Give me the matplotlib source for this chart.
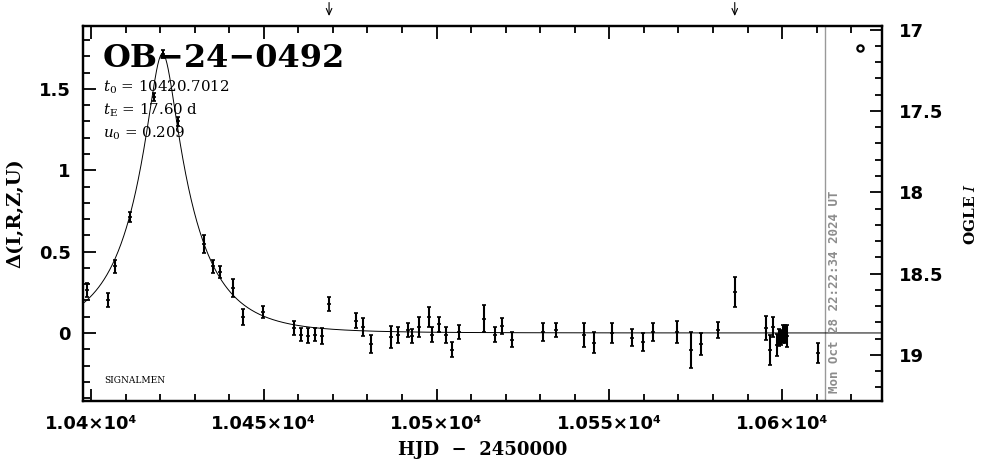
"""OGLE/SIGNALMEN style light curve of OB-24-0492 with PSPL model."""
import matplotlib
matplotlib.use("Agg")
import matplotlib.pyplot as plt
import matplotlib.transforms as mtransforms
import numpy as np
from matplotlib.ticker import FuncFormatter, MultipleLocator

# event parameters printed on the chart
EVENT = "OB\u221224\u22120492"
T0 = 10420.7012
TE = 17.60
U0 = 0.209
I_BASE = 18.865  # OGLE I at delta = 0

# photometry: HJD-2450000, delta mag, error
hjd = [10398.9, 10405.0, 10407.0, 10411.2, 10418.2, 10420.9, 10425.3, 10432.8,
       10435.2, 10437.2, 10441.0, 10444.1, 10449.7, 10458.8, 10460.7, 10462.9,
       10464.9, 10466.9, 10468.9, 10476.7, 10478.8, 10481.0, 10486.8, 10488.8,
       10491.6, 10493.0, 10494.9, 10497.9, 10498.8, 10500.8, 10502.8, 10504.6,
       10506.6, 10513.7, 10516.8, 10518.8, 10521.9, 10530.8, 10534.7, 10542.7,
       10545.6, 10550.7, 10556.7, 10559.7, 10562.6, 10569.5, 10573.5, 10576.4,
       10581.5, 10586.3, 10595.3, 10596.4, 10597.4, 10598.5, 10599.1, 10599.7,
       10600.3, 10600.8, 10601.3, 10610.3]
dmag = [0.264, 0.203, 0.41, 0.713, 1.45, 1.715, 1.30, 0.547,
        0.41, 0.375, 0.277, 0.098, 0.13, 0.03, -0.012, -0.018,
        -0.012, -0.02, 0.178, 0.074, 0.037, -0.068, -0.025, -0.012,
        0.018, -0.018, 0.037, 0.098, -0.012, 0.055, -0.012, -0.104,
        0.006, 0.086, -0.01, 0.043, -0.043, 0.006, 0.018, -0.012,
        -0.061, 0.0, -0.03, -0.055, 0.006, 0.006, -0.104, -0.068,
        0.018, 0.252, 0.03, -0.104, 0.037, -0.074, -0.03, -0.025,
        -0.006, -0.006, -0.018, -0.123]
derr = [0.043, 0.043, 0.04, 0.028, 0.025, 0.025, 0.025, 0.055,
        0.04, 0.035, 0.055, 0.05, 0.035, 0.045, 0.04, 0.046,
        0.04, 0.05, 0.043, 0.046, 0.056, 0.055, 0.065, 0.05,
        0.045, 0.045, 0.06, 0.06, 0.046, 0.046, 0.05, 0.046,
        0.04, 0.083, 0.046, 0.05, 0.046, 0.056, 0.043, 0.074,
        0.064, 0.061, 0.053, 0.055, 0.058, 0.066, 0.11, 0.065,
        0.05, 0.09, 0.074, 0.09, 0.06, 0.068, 0.052, 0.046,
        0.056, 0.056, 0.068, 0.064]

# latest point (open circle) and flagged epochs (arrows)
last_hjd, last_dmag = 10622.6, 1.75
arrow_hjd = [10468.9, 10586.3]
now_hjd = 10612.4
now_text = "Mon Oct 28 22:22:34 2024 UT"

XLIM = (10397.7, 10628.9)
YLIM = (-0.418, 1.887)


def pspl_delta(t):
    u = np.sqrt(U0 ** 2 + ((t - T0) / TE) ** 2)
    amp = (u ** 2 + 2) / (u * np.sqrt(u ** 2 + 4))
    return 2.5 * np.log10(amp)


def main() -> None:
    plt.rcParams["mathtext.fontset"] = "dejavuserif"
    tick_font = {"family": "DejaVu Sans", "weight": "bold", "size": 13}

    fig = plt.figure(figsize=(9.86, 4.59), dpi=100)
    ax = fig.add_axes([0.0842, 0.1264, 0.8103, 0.8170])

    tt = np.linspace(XLIM[0], XLIM[1], 2000)
    ax.plot(tt, pspl_delta(tt), color="black", lw=0.7, zorder=2)
    ax.errorbar(hjd, dmag, yerr=derr, fmt="_", color="black", ms=3, mew=1.2,
                elinewidth=1.5, capsize=1.5, capthick=1.0, zorder=3)
    ax.plot([last_hjd], [last_dmag], "o", ms=4.5, mfc="white", mec="black",
            mew=1.6, zorder=4)
    ax.axvline(now_hjd, color="#999999", lw=1.0, zorder=1)

    trans = mtransforms.blended_transform_factory(ax.transData, ax.transAxes)
    ax.text(now_hjd + 0.9, 0.021, now_text, transform=trans, rotation=90,
            ha="left", va="bottom", color="#8c8c8c", fontsize=9,
            family="DejaVu Sans Mono", weight="bold")
    for xa in arrow_hjd:
        ax.annotate("", xy=(xa, 1.019), xytext=(xa, 1.07),
                    xycoords=trans, textcoords=trans, annotation_clip=False,
                    arrowprops=dict(arrowstyle="->,head_length=0.45,head_width=0.2",
                                    lw=0.8, color="black"))

    ax.text(0.025, 0.891, EVENT, transform=ax.transAxes, fontsize=23,
            family="DejaVu Serif", weight="bold", va="baseline")
    params = [r"$t_0$ = 10420.7012", r"$t_{\rm E}$ = 17.60 d", r"$u_0$ = 0.209"]
    for k, s in enumerate(params):
        ax.text(0.025, 0.824 - 0.0605 * k, s, transform=ax.transAxes,
                fontsize=10.8, family="DejaVu Serif", va="baseline")
    ax.text(0.026, 0.048, "SIGNALMEN", transform=ax.transAxes, fontsize=6.5,
            family="DejaVu Serif", va="baseline")

    ax.set_xlim(*XLIM)
    ax.set_ylim(*YLIM)
    ax.xaxis.set_major_locator(MultipleLocator(50))
    ax.xaxis.set_minor_locator(MultipleLocator(10))
    ax.yaxis.set_major_locator(MultipleLocator(0.5))
    ax.yaxis.set_minor_locator(MultipleLocator(0.1))
    ax.xaxis.set_major_formatter(
        FuncFormatter(lambda v, p: f"{v / 1e4:g}\u00d710\u2074"))
    ax.yaxis.set_major_formatter(FuncFormatter(lambda v, p: f"{v:g}"))
    ax.tick_params(which="both", direction="in", top=True, bottom=True,
                   left=True, right=False, width=1.3)
    ax.tick_params(which="major", length=9)
    ax.tick_params(which="minor", length=5)
    ax.tick_params(axis="x", pad=10)
    ax.tick_params(axis="y", pad=9)
    for lab in ax.get_xticklabels() + ax.get_yticklabels():
        lab.set_fontproperties(tick_font)
    for sp in ax.spines.values():
        sp.set_linewidth(1.6)

    ax.set_xlabel("HJD  \u2212  2450000", fontsize=13, family="DejaVu Serif",
                  weight="bold", labelpad=6)
    ax.set_ylabel("\u0394(I,R,Z,U)", fontsize=14, family="DejaVu Serif",
                  weight="bold", labelpad=10)

    ax2 = ax.twinx()
    ax2.set_ylim(I_BASE - YLIM[0], I_BASE - YLIM[1])
    ax2.yaxis.set_major_locator(MultipleLocator(0.5))
    ax2.yaxis.set_minor_locator(MultipleLocator(0.1))
    ax2.yaxis.set_major_formatter(FuncFormatter(lambda v, p: f"{v:g}"))
    ax2.tick_params(which="both", direction="in", width=1.3, pad=12)
    ax2.tick_params(which="major", length=9)
    ax2.tick_params(which="minor", length=5)
    for lab in ax2.get_yticklabels():
        lab.set_fontproperties(tick_font)
    for sp in ax2.spines.values():
        sp.set_linewidth(1.6)
    ax2.set_ylabel("OGLE $I$", fontsize=11, family="DejaVu Serif",
                   weight="bold", labelpad=14)

    fig.savefig("out.png", dpi=100)
    plt.close(fig)


if __name__ == "__main__":
    main()
